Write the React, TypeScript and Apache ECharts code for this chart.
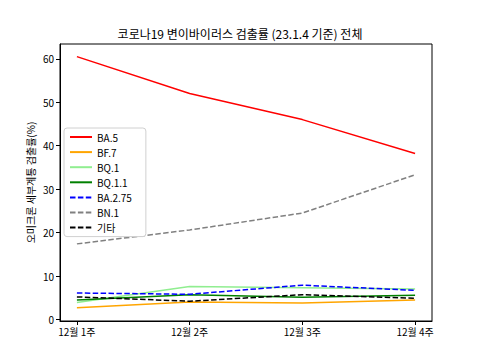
import React, { useEffect, useRef } from "react";
import * as echarts from "echarts";

const categories = ["12월 1주", "12월 2주", "12월 3주", "12월 4주"];
const yTicks = [0, 10, 20, 30, 40, 50, 60];

const ba5 = [60.5, 52.0, 46.0, 38.2];
const bf7 = [2.7, 4.0, 3.8, 4.5];
const bq1 = [3.9, 7.6, 7.3, 7.0];
const bq11 = [4.5, 5.7, 5.1, 5.6];
const ba275 = [6.1, 5.8, 7.9, 6.7];
const bn1 = [17.4, 20.6, 24.5, 33.3];
const etc = [5.2, 4.2, 5.7, 4.9];

const seriesDefs = [
  { name: "BA.5", data: ba5, color: "#ff0000", dashed: false },
  { name: "BF.7", data: bf7, color: "#ffa500", dashed: false },
  { name: "BQ.1", data: bq1, color: "#90ee90", dashed: false },
  { name: "BQ.1.1", data: bq11, color: "#008000", dashed: false },
  { name: "BA.2.75", data: ba275, color: "#0000ff", dashed: true },
  { name: "BN.1", data: bn1, color: "#808080", dashed: true },
  { name: "기타", data: etc, color: "#000000", dashed: true },
];

const FONT = "'Noto Sans CJK KR', 'Noto Sans', sans-serif";

export default function App() {
  const ref = useRef<HTMLDivElement>(null);
  useEffect(() => {
    if (!ref.current) return;
    const chart = echarts.init(ref.current, undefined, { renderer: "svg" });
    chart.setOption({
      animation: false,
      backgroundColor: "#ffffff",
      textStyle: { fontFamily: FONT },
      title: {
        text: "코로나19 변이바이러스 검출률 (23.1.4 기준) 전체",
        left: "center",
        top: 22,
        textStyle: { fontFamily: FONT, fontSize: 12, fontWeight: "normal", color: "#000" },
      },
      grid: {
        left: 60,
        right: 48,
        top: 44,
        bottom: 39,
        show: true,
        borderColor: "#000",
        borderWidth: 1,
        backgroundColor: "transparent",
      },
      legend: {
        orient: "vertical",
        left: 64,
        top: 128,
        itemWidth: 22,
        itemHeight: 10,
        itemGap: 5.1,
        padding: [4, 14, 4, 5],
        backgroundColor: "#fff",
        borderColor: "#d0d0d0",
        borderWidth: 1,
        borderRadius: 3,
        itemStyle: { opacity: 0 },
        textStyle: { fontFamily: FONT, fontSize: 10, color: "#000" },
        data: seriesDefs.map((s) => s.name),
      },
      xAxis: {
        type: "value",
        min: -0.15,
        max: 3.15,
        splitLine: { show: false },
        axisLine: { show: true, onZero: false, lineStyle: { color: "#000", width: 1 } },
        axisTick: { show: true, length: 4, lineStyle: { color: "#000" }, customValues: [0, 1, 2, 3] },
        axisLabel: {
          customValues: [0, 1, 2, 3],
          formatter: (v: number) => categories[Math.round(v)] ?? "",
          fontFamily: FONT,
          fontSize: 10,
          color: "#000",
          margin: 5,
        },
      },
      yAxis: {
        type: "value",
        min: -0.35,
        max: 63.4,
        name: "오미크론 세부계통 검출률(%)",
        nameLocation: "middle",
        nameGap: 25,
        nameMoveOverlap: false,
        nameTextStyle: { fontFamily: FONT, fontSize: 10, color: "#000" },
        splitLine: { show: false },
        axisLine: { show: true, onZero: false, lineStyle: { color: "#000", width: 1 } },
        axisTick: { show: true, length: 4, lineStyle: { color: "#000" }, customValues: yTicks },
        axisLabel: {
          customValues: yTicks,
          fontFamily: FONT,
          fontSize: 10,
          color: "#000",
          margin: 6,
        },
      },
      series: seriesDefs.map((s) => ({
        name: s.name,
        type: "line",
        symbol: "none",
        data: s.data.map((v, i) => [i, v]),
        itemStyle: { color: s.color },
        lineStyle: {
          color: s.color,
          width: 1.5,
          type: s.dashed ? [5.5, 2.4] : "solid",
        },
      })),
    });
    return () => chart.dispose();
  }, []);
  return <div ref={ref} style={{ width: 480, height: 360, margin: -8 }} />;
}
